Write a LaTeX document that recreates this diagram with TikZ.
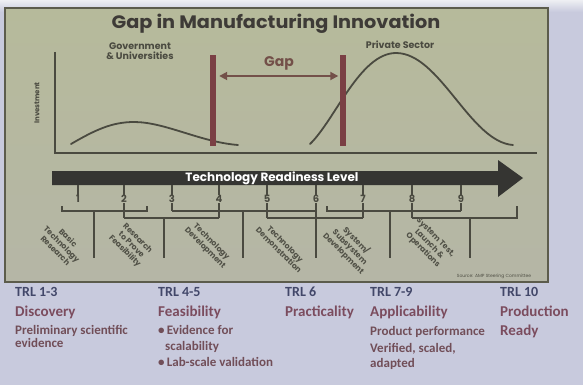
\documentclass[tikz,border=0pt]{standalone}
\usepackage{fontspec}
\setmainfont{Carlito}
\newfontfamily\pfont{Poppins}
\usetikzlibrary{arrows.meta}
\definecolor{bgc}{HTML}{C8CADD}
\definecolor{topc}{HTML}{EEEFF3}
\definecolor{panelt}{HTML}{B6BA9B}
\definecolor{panelb}{HTML}{B5B6A6}
\definecolor{borderc}{HTML}{5C5C4C}
\definecolor{titlec}{HTML}{3E3B37}
\definecolor{axc}{HTML}{4A4A40}
\definecolor{barc}{HTML}{7A3F44}
\definecolor{gapc}{HTML}{735049}
\definecolor{arrc}{HTML}{353532}
\definecolor{labc}{HTML}{505046}
\definecolor{trlc}{HTML}{424769}
\definecolor{headc}{HTML}{7B4C5E}
\definecolor{bodyc}{HTML}{714E58}
\begin{document}
\begin{tikzpicture}[x=1pt,y=-1pt,
  ax/.style={draw=axc,line width=1.4pt},
  curve/.style={draw=axc,line width=1.8pt,line cap=round},
  barbox/.style={fill=barc,minimum width=6pt,minimum height=91pt,inner sep=0pt,draw=none},
  num/.style={font=\pfont\fontsize{10}{10}\selectfont\bfseries,text=axc,inner sep=0.5pt},
  brk/.style={draw=axc,line width=1.2pt},
  rlab/.style={rotate=-45,align=center,font=\pfont\fontsize{7.8}{9}\selectfont\bfseries,text=labc,inner sep=0pt},
  small/.style={font=\pfont\fontsize{9.5}{10.5}\selectfont\bfseries,text=axc,align=center,inner sep=0pt},
  trl/.style={anchor=base west,inner sep=0pt,font=\fontsize{14}{16}\selectfont\bfseries,text=trlc},
  head/.style={anchor=base west,inner sep=0pt,font=\fontsize{15}{17}\selectfont\bfseries,text=headc},
  body/.style={anchor=base west,inner sep=0pt,font=\fontsize{13}{15}\selectfont\bfseries,text=bodyc},
]
\useasboundingbox (0,0) rectangle (583,385);
\fill[bgc] (0,0) rectangle (583,385);
\shade[top color=topc,bottom color=bgc] (0,0) rectangle (583,12);
\shade[top color=panelt,bottom color=panelb] (5,8) rectangle (548,282);
\draw[borderc,line width=1.3pt] (5,8) rectangle (548,282);

% title
\node[font=\pfont\fontsize{18}{19}\selectfont\bfseries,text=titlec] (title) at (276,24) {\scalebox{1.07}[1]{Gap in Manufacturing Innovation}};
\node[small] (gov) at (140,51) {Government\\\& Universities};
\node[small] (priv) at (400,45) {Private Sector};
\node[rotate=90,font=\pfont\fontsize{7}{7}\selectfont\bfseries,text=axc,inner sep=0pt] (inv) at (37,103) {Investment};

% axes
\coordinate (o) at (55,153);
\coordinate (ytop) at (55,52);
\coordinate (xend) at (537,153);
\draw[ax] (ytop) -- (o) -- (xend);

% curves
\draw[curve] (71,144) .. controls (95,130) and (112,122) .. (134,122) .. controls (165,122) and (200,142) .. (238,145);
\draw[curve] (310,144) .. controls (335,120) and (360,53) .. (396,53) .. controls (440,53) and (470,142) .. (513,145);

% bars and gap
\node[barbox] (bar1) at (213,100.5) {};
\node[barbox] (bar2) at (342.5,100.5) {};
\draw[gapc,line width=1.8pt,{Triangle[length=8pt,width=8pt]}-{Triangle[length=8pt,width=8pt]},shorten <=3pt,shorten >=1pt] ([yshift=24.5pt]bar1.east) -- ([yshift=24.5pt]bar2.west);
\node[font=\pfont\fontsize{14}{15}\selectfont\bfseries,text=gapc] (gap) at (279,63) {Gap};

% big arrow
\fill[arrc] (52,171) -- (498,171) -- (498,160) -- (523,178) -- (498,197) -- (498,185) -- (52,185) -- cycle;
\node[font=\pfont\fontsize{12}{12}\selectfont\bfseries,text=white] (trltxt) at (272,178.5) {Technology Readiness Level};

% numbers and ticks
\foreach \i/\x in {1/78,2/124,3/172,4/219,5/267,6/316,7/363,8/412,9/461}{
  \node[num] (n\i) at (\x,199) {\i};
  \draw[brk] (\x,185) -- (n\i.north);
}
% drops to rows
\draw[brk] (n2.south) -- (124,218);
\draw[brk] (n3.south) -- (172,211);
\draw[brk] (n4.south) -- (219,218);
\draw[brk] (n5.south) -- (267,218);
\draw[brk] (n6.south) -- (316,258);
\draw[brk] (n7.south) -- (363,218);
\draw[brk] (n8.south) -- (412,218);
\draw[brk] (n9.south) -- (461,211);
% upper row
\draw[brk] (62,206) -- (62,211) -- (147,211) -- (147,206);
\draw[brk] (172,211) -- (316,211);
\draw[brk] (327,206) -- (327,211) -- (461,211);
% lower row
\draw[brk] (124,218) -- (219,218);
\draw[brk] (267,218) -- (363,218);
\draw[brk] (412,218) -- (517,218) -- (517,206);
% stems
\foreach \x/\y in {94/211,164/218,243/211,390/211,470/218}{
  \draw[brk] (\x,\y) -- (\x,258);
}

% rotated labels
\node[rlab] (l1) at (62,244) {Basic\\Technology\\Research};
\node[rlab] (l2) at (131,245) {Research\\to Prove\\Feasibility};
\node[rlab] (l3) at (208,245) {Technology\\Development};
\node[rlab] (l4) at (282,247) {Technology\\Demonstration};
\node[rlab] (l5) at (350,247) {System/\\Subsystem\\Development};
\node[rlab] (l6) at (429,244) {System Test,\\Launch \&\\Operations};

\node[font=\pfont\fontsize{4.5}{5}\selectfont,text=labc,inner sep=0pt] (src) at (494,276) {Source: AMP Steering Committee};

% bottom text
\node[trl] (t1) at (15,296) {TRL 1-3};
\node[head] (h1) at (15,316) {Discovery};
\node[body] (b1a) at (15,334) {Preliminary scientific};
\node[body] (b1b) at (15,347) {evidence};

\node[trl] (t2) at (158,296) {TRL 4-5};
\node[head] (h2) at (158,316) {Feasibility};
\node[body] (b2a) at (158,334) {\textbullet\,Evidence for};
\node[body] (b2b) at (165,350) {scalability};
\node[body] (b2c) at (158,366) {\textbullet\,Lab-scale validation};

\node[trl] (t3) at (285,296) {TRL 6};
\node[head] (h3) at (285,316) {Practicality};

\node[trl] (t4) at (370,296) {TRL 7-9};
\node[head] (h4) at (370,316) {Applicability};
\node[body] (b4a) at (370,335) {Product performance};
\node[body] (b4b) at (370,352) {Verified, scaled,};
\node[body] (b4c) at (370,367) {adapted};

\node[trl] (t5) at (500,296) {TRL 10};
\node[head] (h5) at (500,316) {Production};
\node[head] (h5b) at (500,335) {Ready};
\end{tikzpicture}
\end{document}
